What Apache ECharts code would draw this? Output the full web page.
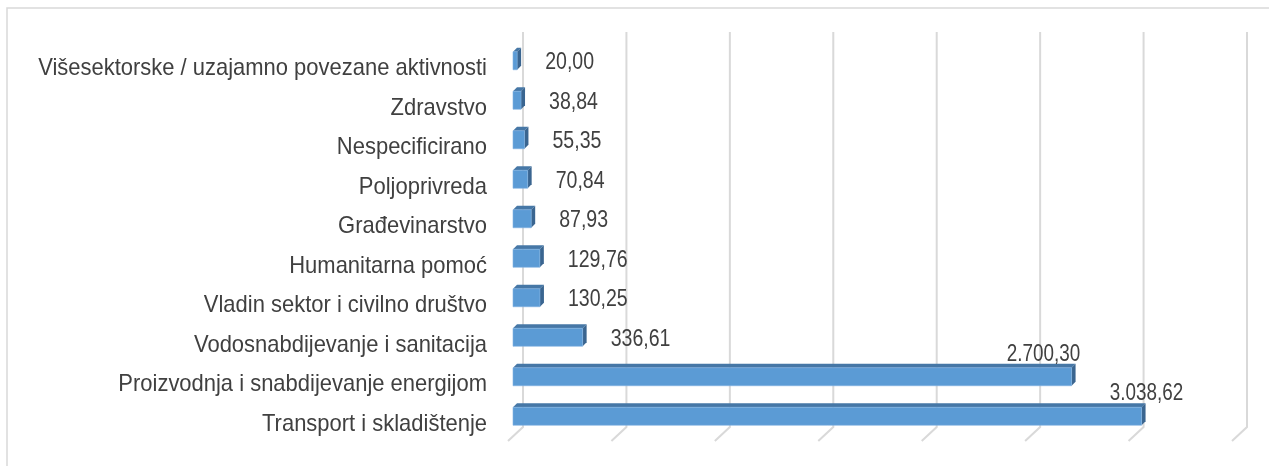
<!DOCTYPE html>
<html><head><meta charset="utf-8">
<script src="https://cdn.jsdelivr.net/npm/echarts@6/dist/echarts.min.js"></script>
<style>html,body{margin:0;padding:0;background:#fff}#c{width:1269px;height:466px}</style>
</head><body><div id="c"></div>
<script>
const categories = [
  'Višesektorske / uzajamno povezane aktivnosti',
  'Zdravstvo',
  'Nespecificirano',
  'Poljoprivreda',
  'Građevinarstvo',
  'Humanitarna pomoć',
  'Vladin sektor i civilno društvo',
  'Vodosnabdijevanje i sanitacija',
  'Proizvodnja i snabdijevanje energijom',
  'Transport i skladištenje'
];
const values = [20.00, 38.84, 55.35, 70.84, 87.93, 129.76, 130.25, 336.61, 2700.30, 3038.62];
const gridTicks = [0, 500, 1000, 1500, 2000, 2500, 3000, 3500];

const FONT = "'Liberation Sans', Arial, sans-serif";
const DX = 15, DY = 14; // depth of the 3D floor
const BIG_LABEL_SHIFT = {8: -28, 9: 5};
const fmt = v => {
  const p = v.toFixed(2).split('.');
  return p[0].replace(/\B(?=(\d{3})+(?!\d))/g, '.') + ',' + p[1];
};

const chart = echarts.init(document.getElementById('c'), null, {renderer: 'canvas'});
chart.setOption({
  backgroundColor: '#fff',
  animation: false,
  graphic: [{type: 'rect', shape: {x: 7, y: 8, width: 1300, height: 500},
    style: {fill: 'none', stroke: '#d9d9d9', lineWidth: 1.5}, z: -10}],
  grid: {left: 508, right: 37, top: 46, bottom: 25, containLabel: false},
  xAxis: {type: 'value', min: 0, max: 3500, interval: 500,
    axisLabel: {show: false}, axisLine: {show: false}, axisTick: {show: false}, splitLine: {show: false}},
  yAxis: {type: 'category', data: categories, inverse: true,
    axisLine: {show: false}, axisTick: {show: false}, axisLabel: {show: false}},
  series: [
    // category labels (drawn narrow, like the original condensed font)
    {type: 'custom', data: categories.map((c, i) => [0, i]), encode: {x: 0, y: 1}, z: 3, silent: true,
      renderItem: (params, api) => {
        const i = api.value(1);
        const p = api.coord([0, i]);
        return {type: 'text', x: p[0] - 21, y: p[1] + 3, scaleX: 0.915,
          style: {text: categories[i], x: 0, y: 0, textAlign: 'right', textVerticalAlign: 'middle',
            fill: '#404040', fontSize: 24, fontFamily: FONT}};
      }},
    {type: 'custom', data: gridTicks.map(t => [t]), encode: {x: 0}, z: 1, silent: true,
      renderItem: (params, api) => {
        const cs = params.coordSys;
        const x = api.coord([api.value(0), 0])[0];
        const bottom = cs.y + cs.height;
        return {type: 'polyline', shape: {points: [[x + DX, cs.y - DY], [x + DX, bottom - DY], [x, bottom]]},
          style: {stroke: '#d9d9d9', lineWidth: 2, fill: 'none'}};
      }},
    {type: 'custom', data: values.map((v, i) => [v, i]), encode: {x: 0, y: 1}, z: 5, silent: true,
      renderItem: (params, api) => {
        const v = api.value(0), i = api.value(1);
        const p0 = api.coord([0, i]), p1 = api.coord([v, i]);
        const x0 = p0[0] + 5, x1 = p1[0] + 5, yc = p0[1] - 5;
        const h = 18, d = 4;
        const yT = yc - h / 2, yB = yc + h / 2;
        const children = [
          {type: 'polygon', shape: {points: [[x0, yT], [x0 + d, yT - d], [x1 + d, yT - d], [x1, yT]]},
            style: {fill: '#4677a6'}},
          {type: 'polygon', shape: {points: [[x1, yT], [x1 + d, yT - d], [x1 + d, yB - d], [x1, yB]]},
            style: {fill: '#3a6590'}},
          {type: 'rect', shape: {x: x0, y: yT, width: x1 - x0, height: h},
            style: {fill: '#5b9bd5', stroke: '#7fb2e2', lineWidth: 0.6}}
        ];
        const big = v > 1000;
        children.push({type: 'text',
          x: big ? x1 + (BIG_LABEL_SHIFT[i] || -11) : x1 + d + 24,
          y: big ? yT - d + 2 : yc + 2,
          scaleX: big ? 0.82 : 0.85,
          style: {
            text: fmt(v), x: 0, y: 0,
            textAlign: big ? 'center' : 'left',
            textVerticalAlign: big ? 'bottom' : 'middle',
            fill: '#404040', fontSize: 23, fontFamily: FONT}});
        return {type: 'group', children};
      }}
  ]
});
</script></body></html>
